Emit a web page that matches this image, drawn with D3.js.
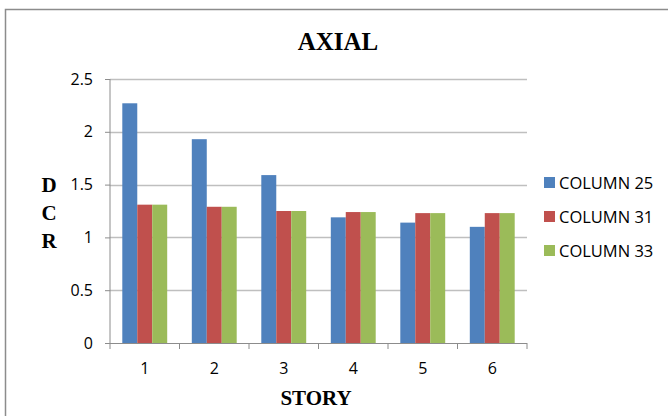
<!DOCTYPE html>
<html>
<head>
<meta charset="utf-8">
<script src="https://cdn.jsdelivr.net/npm/d3@7"></script>
<style>
  html, body { margin: 0; padding: 0; background: #fff; }
  svg { display: block; }
</style>
</head>
<body>
<svg id="chart" width="668" height="416"></svg>
<script>
// Demand/capacity ratio of axial load per story
const stories = ["1", "2", "3", "4", "5", "6"];
const seriesNames = ["COLUMN 25", "COLUMN 31", "COLUMN 33"];
const column25 = [2.27, 1.93, 1.59, 1.19, 1.14, 1.10];
const column31 = [1.31, 1.29, 1.25, 1.24, 1.23, 1.23];
const column33 = [1.31, 1.29, 1.25, 1.24, 1.23, 1.23];
const yTicks = [0, 0.5, 1, 1.5, 2, 2.5];
const colors = ["#4F81BD", "#C0504D", "#9BBB59"];

const seriesValues = [column25, column31, column33];
const svg = d3.select("#chart");
const sans = "'Open Sans', 'Liberation Sans', sans-serif";
const serif = "'Liberation Serif', 'DejaVu Serif', serif";

// outer chart frame
svg.append("rect")
  .attr("x", 5.5).attr("y", 9.5)
  .attr("width", 700).attr("height", 450)
  .attr("fill", "#fff").attr("stroke", "#8c8c8c").attr("stroke-width", 1.5);

const plot = { left: 110, right: 527, top: 79, bottom: 343 };

const x = d3.scaleBand().domain(stories)
  .range([plot.left, plot.right]).paddingInner(0).paddingOuter(0);
const xInner = d3.scaleBand().domain(d3.range(seriesNames.length))
  .range([0, x.bandwidth() * 0.646]);
const y = d3.scaleLinear().domain([0, 2.5]).range([plot.bottom, plot.top]);

// horizontal gridlines
svg.append("g").selectAll("line").data(yTicks.filter(d => d > 0)).join("line")
  .attr("x1", plot.left).attr("x2", plot.right)
  .attr("y1", d => Math.round(y(d)) + 0.5).attr("y2", d => Math.round(y(d)) + 0.5)
  .attr("stroke", "#bfbfbf").attr("stroke-width", 1.5);

// bars
const groupOffset = (x.bandwidth() - xInner.range()[1]) / 2;
const groups = svg.append("g").selectAll("g").data(stories).join("g")
  .attr("transform", d => `translate(${x(d) + groupOffset},0)`);
groups.selectAll("rect")
  .data((d, i) => seriesValues.map((vals, s) => ({ s, v: vals[i] })))
  .join("rect")
  .attr("x", d => xInner(d.s))
  .attr("width", xInner.bandwidth())
  .attr("y", d => y(d.v))
  .attr("height", d => y(0) - y(d.v))
  .attr("fill", d => colors[d.s]);

// y axis
const yAxis = d3.axisLeft(y).tickValues(yTicks).tickSize(5).tickPadding(12)
  .tickFormat(d3.format("~g"));
const gy = svg.append("g").attr("transform", `translate(${plot.left},0)`).call(yAxis);
gy.select(".domain").attr("stroke", "#8c8c8c").attr("d", `M0,${plot.top}V${plot.bottom}`);
gy.selectAll(".tick line").attr("stroke", "#8c8c8c");
gy.selectAll("text").attr("font-family", sans)
  .attr("font-size", 16).attr("fill", "#000");

// x axis with ticks between categories
const gx = svg.append("g").attr("transform", `translate(0,${plot.bottom})`);
gx.append("line").attr("x1", plot.left - 5).attr("x2", plot.right)
  .attr("y1", 0.5).attr("y2", 0.5).attr("stroke", "#8c8c8c").attr("stroke-width", 1.2);
gx.selectAll("line.tk").data(d3.range(stories.length + 1)).join("line")
  .attr("class", "tk")
  .attr("x1", i => plot.left + i * x.bandwidth()).attr("x2", i => plot.left + i * x.bandwidth())
  .attr("y1", 0).attr("y2", 6).attr("stroke", "#8c8c8c");
gx.selectAll("text").data(stories).join("text")
  .attr("x", d => x(d) + x.bandwidth() / 2).attr("y", 31)
  .attr("text-anchor", "middle")
  .attr("font-family", sans)
  .attr("font-size", 16).attr("fill", "#000")
  .text(d => d);

// title and axis titles
svg.append("text").attr("x", 338).attr("y", 50).attr("text-anchor", "middle")
  .attr("font-family", serif)
  .attr("font-weight", "bold").attr("font-size", 25).text("AXIAL");
svg.append("text").attr("x", 316).attr("y", 405).attr("text-anchor", "middle")
  .attr("font-family", serif)
  .attr("font-weight", "bold").attr("font-size", 21).text("STORY");
svg.append("g").selectAll("text").data(["D", "C", "R"]).join("text")
  .attr("x", 49).attr("y", (d, i) => 192 + i * 28).attr("text-anchor", "middle")
  .attr("font-family", serif)
  .attr("font-weight", "bold").attr("font-size", 21).text(d => d);

// legend
const legend = svg.append("g").selectAll("g").data(seriesNames).join("g")
  .attr("transform", (d, i) => `translate(544,${182 + i * 34})`);
legend.append("rect").attr("x", 0).attr("y", -5).attr("width", 11).attr("height", 11)
  .attr("fill", (d, i) => colors[i]);
legend.append("text").attr("x", 15).attr("y", 6.5)
  .attr("font-family", sans)
  .attr("font-size", 16.5).attr("fill", "#000").text(d => d);
</script>
</body>
</html>
